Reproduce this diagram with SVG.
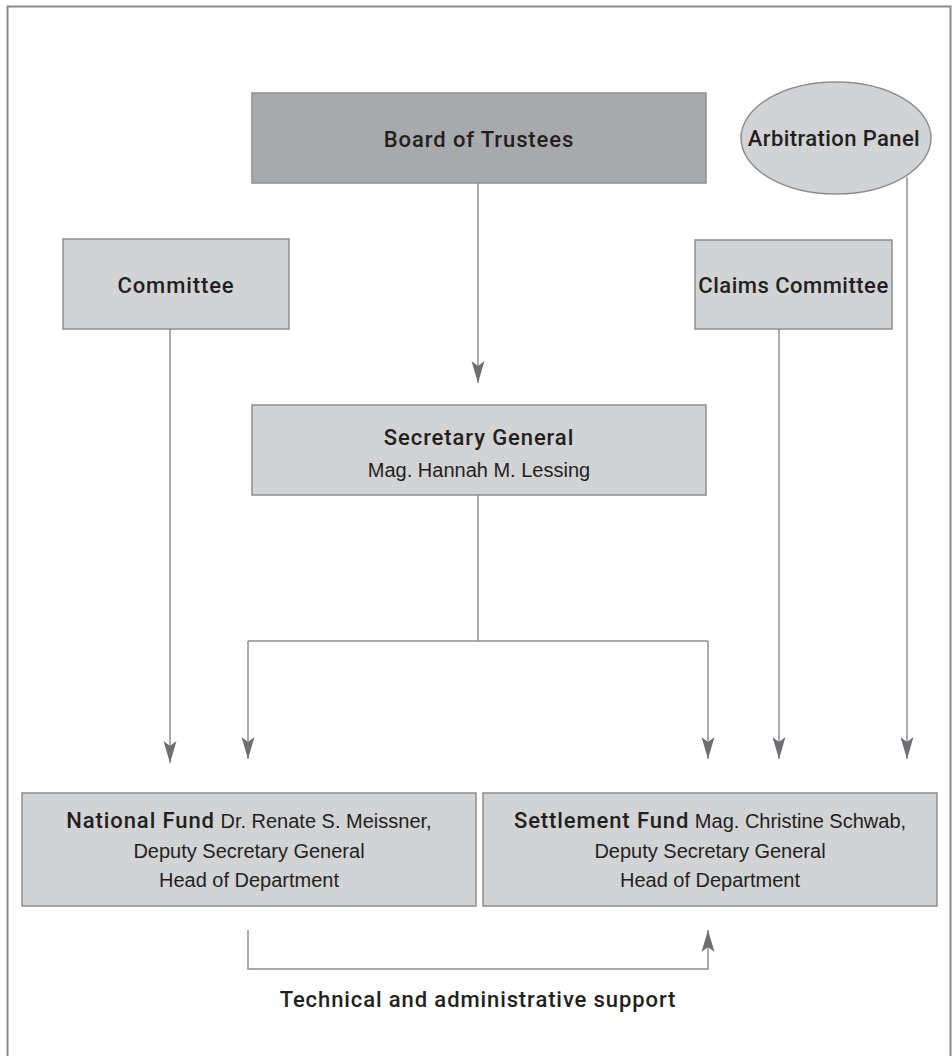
<svg xmlns="http://www.w3.org/2000/svg" width="952" height="1056" viewBox="0 0 952 1056">
<defs>
<style>
.box{fill:#d2d3d5;stroke:#8d8e90;stroke-width:1.5}
.dark{fill:#a8a9ac;stroke:#8d8e90;stroke-width:1.5}
.t{font-family:Roboto,"Liberation Sans",Arial,sans-serif;font-size:22px;font-weight:500;letter-spacing:0.9px;fill:#231f20;text-anchor:middle}
.s{font-family:"Liberation Sans",Arial,sans-serif;font-size:20px;font-weight:normal;letter-spacing:0;fill:#231f20;text-anchor:middle}
.r{font-family:"Liberation Sans",Arial,sans-serif;font-weight:normal;font-size:20px;letter-spacing:0}
.c{fill:none;stroke:#8e8f91;stroke-width:1.5}
</style>
<marker id="ah" markerUnits="userSpaceOnUse" markerWidth="30" markerHeight="20" refX="22" refY="7" orient="auto" viewBox="0 0 30 20">
<path d="M22,7 L0,0.5 L5,7 L0,13.5 Z" fill="#6d6e71"/>
</marker>
</defs>
<rect x="0" y="0" width="952" height="1056" fill="#ffffff"/>
<rect id="frame" x="7.5" y="6.5" width="943" height="1070" fill="none" stroke="#8a8a8a" stroke-width="2"/>

<g id="connectors">
<path class="c" d="M478,183 V383" marker-end="url(#ah)"/>
<path class="c" d="M170,329 V763" marker-end="url(#ah)"/>
<path class="c" d="M478,495 V641"/>
<path class="c" d="M248,641 H708"/>
<path class="c" d="M248,641 V759" marker-end="url(#ah)"/>
<path class="c" d="M708,641 V759" marker-end="url(#ah)"/>
<path class="c" d="M779,329 V759" marker-end="url(#ah)"/>
<path class="c" d="M907,177 V759" marker-end="url(#ah)"/>
<path class="c" d="M248,930 V969 H708 V930" marker-end="url(#ah)"/>
</g>

<g id="board">
<rect class="dark" x="252" y="93" width="454" height="90"/>
<text class="t" x="479" y="147">Board of Trustees</text>
</g>

<g id="arbitration">
<ellipse class="box" cx="836" cy="138" rx="95" ry="56"/>
<text class="t" x="834" y="146" style="letter-spacing:0.4px">Arbitration Panel</text>
</g>

<g id="committee">
<rect class="box" x="63" y="239" width="226" height="90"/>
<text class="t" x="176" y="293">Committee</text>
</g>

<g id="claims">
<rect class="box" x="695" y="240" width="197" height="89"/>
<text class="t" x="793.5" y="293" style="letter-spacing:0.5px">Claims Committee</text>
</g>

<g id="secretary">
<rect class="box" x="252" y="405" width="454" height="90"/>
<text class="t" x="479" y="445">Secretary General</text>
<text class="s" x="479" y="477">Mag. Hannah M. Lessing</text>
</g>

<g id="national">
<rect class="box" x="22" y="793" width="454" height="113"/>
<text class="t" x="249" y="828">National Fund<tspan class="r"> Dr. Renate S. Meissner,</tspan></text>
<text class="s" x="249" y="858">Deputy Secretary General</text>
<text class="s" x="249" y="887">Head of Department</text>
</g>

<g id="settlement">
<rect class="box" x="483" y="793" width="454" height="113"/>
<text class="t" x="710" y="828">Settlement Fund<tspan class="r"> Mag. Christine Schwab,</tspan></text>
<text class="s" x="710" y="858">Deputy Secretary General</text>
<text class="s" x="710" y="887">Head of Department</text>
</g>

<g id="support-label">
<text class="t" x="478" y="1007">Technical and administrative support</text>
</g>
</svg>
